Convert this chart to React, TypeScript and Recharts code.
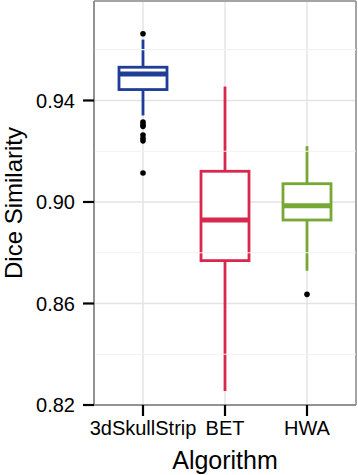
import React from 'react';
import { ComposedChart, Bar, XAxis, YAxis, CartesianGrid, ReferenceLine, Label } from 'recharts';

const algorithms = ['3dSkullStrip', 'BET', 'HWA'];
const whiskerLow = [0.9341, 0.8255, 0.8729];
const q1 = [0.9443, 0.8769, 0.8929];
const medians = [0.9504, 0.8929, 0.8985];
const q3 = [0.9531, 0.9121, 0.9072];
const whiskerHigh = [0.964, 0.9455, 0.922];
const outliers = [
  [0.9663, 0.9315, 0.9305, 0.9298, 0.9264, 0.9251, 0.9241, 0.9114],
  [],
  [0.8636],
];
const colors = ['#1f3c96', '#d8284e', '#77a734'];
const yTicks = [0.82, 0.86, 0.9, 0.94];
const minorTicks = [0.84, 0.88, 0.92, 0.96];
const yDomain = [0.82, 0.9792];

const data = algorithms.map((alg, i) => ({
  alg,
  range: [whiskerLow[i], whiskerHigh[i]],
  q1: q1[i],
  median: medians[i],
  q3: q3[i],
  outliers: outliers[i],
  color: colors[i],
}));

const FONT = '"Liberation Sans", Arial, Helvetica, sans-serif';

const BoxShape = (props: any) => {
  const { x, y, width, height, payload, index } = props;
  const d = payload && payload.range ? payload : data[index];
  const top = Math.min(y, y + height);
  const bottom = Math.max(y, y + height);
  const [lo, hi] = d.range;
  const py = (v: number) => top + ((bottom - top) * (hi - v)) / (hi - lo);
  const cx = x + width / 2;
  const c = d.color;
  const yq1 = py(d.q1);
  const yq3 = py(d.q3);
  const ym = py(d.median);
  return (
    <g>
      <line x1={cx} x2={cx} y1={py(hi)} y2={yq3} stroke={c} strokeWidth={2.8} />
      <line x1={cx} x2={cx} y1={yq1} y2={py(lo)} stroke={c} strokeWidth={2.8} />
      <rect x={x} y={yq3} width={width} height={yq1 - yq3} fill="#ffffff" stroke={c} strokeWidth={2.8} />
      <line x1={x} x2={x + width} y1={ym} y2={ym} stroke={c} strokeWidth={5} />
      {d.outliers.map((v: number, k: number) => (
        <circle key={k} cx={cx} cy={py(v)} r={2.8} fill="#000000" />
      ))}
    </g>
  );
};

const YTitle = (props: any) => {
  const vb = props.viewBox || { x: 0, y: 0, width: 94, height: 404 };
  const tx = vb.x + 22;
  const ty = vb.y + vb.height / 2;
  return (
    <text
      x={tx}
      y={ty}
      transform={`rotate(-90, ${tx}, ${ty})`}
      textAnchor="middle"
      fontSize={24}
      fontFamily={FONT}
      fill="#000000"
    >
      Dice Similarity
    </text>
  );
};

export default function App() {
  return (
    <div style={{ position: 'absolute', left: 0, top: 0, width: 358, height: 475, background: '#ffffff' }}>
      <ComposedChart
        width={358}
        height={475}
        data={data}
        margin={{ top: 1, right: 2, bottom: 0, left: 0 }}
        style={{ fontFamily: FONT }}
      >
        {minorTicks.map((t) => (
          <ReferenceLine key={t} y={t} stroke="#f1f1f1" strokeWidth={1.2} ifOverflow="hidden" />
        ))}
        <CartesianGrid stroke="#e3e3e3" strokeWidth={1.4} />
        <CartesianGrid
          stroke="#8c8c8c"
          strokeWidth={1.5}
          fill="none"
          horizontalCoordinatesGenerator={(p: any) => [p.offset.top, p.offset.top + p.offset.height]}
          verticalCoordinatesGenerator={(p: any) => [p.offset.left, p.offset.left + p.offset.width]}
        />
        <XAxis
          dataKey="alg"
          type="category"
          interval={0}
          height={70}
          padding={{ left: 8, right: 8 }}
          tickSize={11}
          tickMargin={5}
          axisLine={{ stroke: '#8c8c8c', strokeWidth: 1.5 }}
          tickLine={{ stroke: '#000000', strokeWidth: 2.2 }}
          tick={{ fill: '#000000', fontSize: 20, fontFamily: FONT }}
        >
          <Label value="Algorithm" position="insideBottom" offset={6} fontSize={25} fill="#000000" fontFamily={FONT} />
        </XAxis>
        <YAxis
          type="number"
          domain={yDomain}
          allowDataOverflow
          ticks={yTicks}
          width={94}
          tickSize={11}
          tickMargin={8}
          tickFormatter={(v: number) => v.toFixed(2)}
          axisLine={{ stroke: '#8c8c8c', strokeWidth: 1.5 }}
          tickLine={{ stroke: '#000000', strokeWidth: 2.2 }}
          tick={{ fill: '#000000', fontSize: 20, fontFamily: FONT }}
        >
          <Label content={<YTitle />} />
        </YAxis>
        <Bar dataKey="range" barSize={48} isAnimationActive={false} shape={<BoxShape />} />
      </ComposedChart>
    </div>
  );
}
